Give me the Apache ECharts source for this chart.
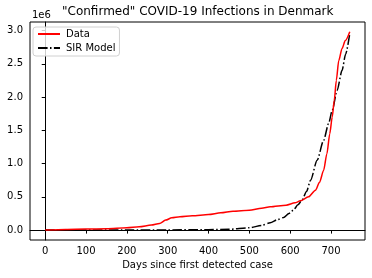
<!DOCTYPE html>
<html><head><meta charset="utf-8">
<script src="https://cdn.jsdelivr.net/npm/echarts@6/dist/echarts.min.js"></script>
<style>html,body{margin:0;padding:0;background:#fff}#c{width:372px;height:278px}</style>
</head><body><div id="c"></div>
<script>
// Days since first detected case, confirmed cases (millions)
var dataDays = [0, 50, 100, 150, 200, 230, 260, 280, 295, 310, 330, 360, 400, 430, 460, 500, 530, 551, 590, 612, 625, 645, 662, 672, 682, 690, 697, 703, 708, 713, 719, 727, 735, 746];
var dataVals = [0, 0.01, 0.015, 0.02, 0.035, 0.05, 0.075, 0.1, 0.15, 0.185, 0.2, 0.215, 0.235, 0.26, 0.285, 0.30, 0.33, 0.35, 0.375, 0.41, 0.44, 0.5, 0.6, 0.72, 0.9, 1.15, 1.45, 1.7, 1.95, 2.25, 2.55, 2.73, 2.85, 2.985];
var sirDays = [0, 100, 200, 300, 400, 450, 500, 530, 551, 570, 584, 597, 608, 619, 629, 640, 650, 666, 682, 694, 703, 715, 727, 736, 746];
var sirVals = [0, 0.001, 0.002, 0.003, 0.006, 0.012, 0.035, 0.07, 0.11, 0.16, 0.19, 0.25, 0.30, 0.38, 0.45, 0.58, 0.75, 1.05, 1.35, 1.6, 1.8, 2.1, 2.4, 2.65, 2.96];
var xTicks = [0, 100, 200, 300, 400, 500, 600, 700];
var yTicks = [0, 0.5, 1.0, 1.5, 2.0, 2.5, 3.0];
var titleText = '"Confirmed" COVID-19 Infections in Denmark';
var xName = 'Days since first detected case';
var names = ['Data', 'SIR Model'];

function zip(a, b) { return a.map(function (v, i) { return [v, b[i]]; }); }
var F = 'DejaVu Sans';
var chart = echarts.init(document.getElementById('c'), null, {renderer: 'canvas'});
chart.setOption({
  animation: false,
  backgroundColor: '#fff',
  title: {text: titleText, left: 62, top: 6, padding: [0, 0, 0, 0],
    textStyle: {fontFamily: F, fontSize: 12, fontWeight: 'normal', color: '#000'}},
  graphic: [{type: 'text', left: 32, top: 10, style: {text: '1e6', font: '10px "DejaVu Sans"', fill: '#000'}}],
  legend: {
    left: 33, top: 27, orient: 'vertical', data: names,
    itemWidth: 22, itemHeight: 12, itemGap: 4,
    padding: [2, 4, 3, 4],
    borderColor: '#d0d0d0', borderWidth: 1, borderRadius: 3,
    backgroundColor: 'rgba(255,255,255,0.8)',
    itemStyle: {opacity: 0},
    textStyle: {fontFamily: F, fontSize: 10, color: '#000', padding: [0, 0, 0, 1]}
  },
  grid: {left: 30, right: 7, top: 22, bottom: 38, show: true, borderColor: '#000', borderWidth: 1, backgroundColor: 'transparent'},
  xAxis: {
    type: 'value', min: -37.3, max: 783.3,
    name: xName, nameLocation: 'middle', nameGap: 20,
    nameTextStyle: {fontFamily: F, fontSize: 10, color: '#000'},
    axisLine: {show: true, lineStyle: {color: '#000'}},
    axisTick: {show: true, length: 3.5, lineStyle: {color: '#000'}, customValues: xTicks},
    axisLabel: {customValues: xTicks, fontFamily: F, fontSize: 10, color: '#000', margin: 6},
    splitLine: {show: false}
  },
  yAxis: {
    type: 'value', min: -0.149, max: 3.13,
    axisLine: {show: true, lineStyle: {color: '#000'}},
    axisTick: {show: true, length: 3.5, lineStyle: {color: '#000'}, customValues: yTicks},
    axisLabel: {customValues: yTicks, fontFamily: F, fontSize: 10, color: '#000', margin: 7,
      formatter: function (v) { return v.toFixed(1); }},
    splitLine: {show: false}
  },
  series: [
    {name: names[0], type: 'line', data: zip(dataDays, dataVals), symbol: 'none', smooth: 0.25, smoothMonotone: 'x',
      lineStyle: {color: '#ff0000', width: 1.5}, itemStyle: {color: '#ff0000'}, z: 3},
    {name: names[1], type: 'line', data: zip(sirDays, sirVals), symbol: 'none', smooth: 0.25, smoothMonotone: 'x',
      lineStyle: {color: '#000', width: 1.5, type: [9.6, 2.4, 1.5, 2.4]}, itemStyle: {color: '#000'}, z: 2}
  ]
});
</script></body></html>
